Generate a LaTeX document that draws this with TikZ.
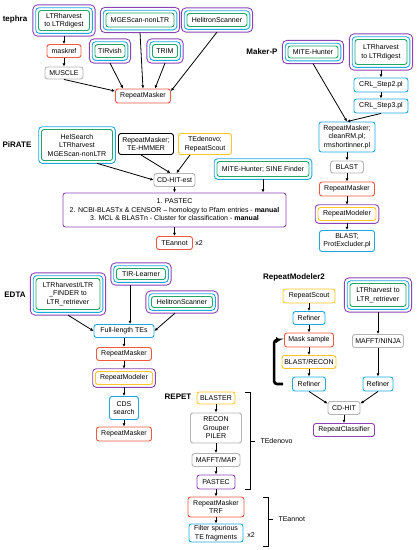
\documentclass[tikz,border=0pt]{standalone}
\usepackage{fontspec}
\setmainfont{Liberation Sans}
\usetikzlibrary{positioning}
\usetikzlibrary{arrows.meta}
\definecolor{tred}{HTML}{F05A3C}
\definecolor{tcyan}{HTML}{1EA8E0}
\definecolor{tgreen}{HTML}{1FA865}
\definecolor{tpurple}{HTML}{8C44B4}
\definecolor{tyellow}{HTML}{FFC425}
\definecolor{tgray}{HTML}{B4B4B4}
\tikzset{
    wh/.style 2 args = {minimum width=#1pt, minimum height=#2pt},
    mybox/.style = {draw, rounded corners=2.5pt, line width=0.9pt, align=center, fill=white, inner sep=1pt, text=black},
    myboxr/.style = {mybox, draw=tred},
    myboxc/.style = {mybox, draw=tcyan},
    myboxk/.style = {mybox, draw=black},
    myboxgr/.style = {mybox, draw=tgray},
    myboxy/.style = {mybox, draw=tyellow},
    myboxp/.style = {mybox, draw=tpurple},
    myboxgc/.style = {mybox, draw=tgreen, outer sep=2.8pt, append after command={\pgfextra{\let\LN\tikzlastnode
        \draw[tcyan, line width=0.9pt, rounded corners=3.5pt] (\LN.south west) rectangle (\LN.north east);}}},
    myboxyp/.style = {mybox, draw=tyellow, outer sep=2.8pt, append after command={\pgfextra{\let\LN\tikzlastnode
        \draw[tpurple, line width=0.9pt, rounded corners=3.5pt] (\LN.south west) rectangle (\LN.north east);}}},
    myboxgcp/.style = {mybox, draw=tgreen, outer sep=5.6pt, append after command={\pgfextra{\let\LN\tikzlastnode
        \draw[tcyan, line width=0.9pt, rounded corners=3.5pt] ([shift={(2.8pt,2.8pt)}]\LN.south west) rectangle ([shift={(-2.8pt,-2.8pt)}]\LN.north east);
        \draw[tpurple, line width=0.9pt, rounded corners=4.5pt] (\LN.south west) rectangle (\LN.north east);}}},
    mylabel/.style = {font=\fontsize{8}{9}\selectfont\bfseries},
    edgen/.style = {-{Latex[length=3.2pt,width=3pt]}, line width=0.8pt, black},
    edgel/.style = {-{Triangle[length=4pt,width=6pt]}, line width=2.6pt, black, rounded corners=3pt}, % loop
    bracket/.style = {line width=0.7pt, black}
}

\begin{document}
\begin{tikzpicture}[
	x=1pt, y=-1pt,
	font=\fontsize{7}{8.5}\selectfont]
  \useasboundingbox (0,0) rectangle (417,550);
  % tephra
  \node (ltephra) at (15,19) [mylabel] {tephra};
  \node (tltr) at (64,20.5) [myboxgcp, wh={51}{20}] {LTRharvest\\to LTRdigest};
  \node (tmge) at (140,20) [myboxgcp, wh={68}{14}] {MGEScan-nonLTR};
  \node (theli) at (217,20) [myboxgcp, wh={60}{13}] {HelitronScanner};
  \node (tmask) at (64,51) [myboxr, wh={34}{13}] {maskref};
  \node (ttir) at (110,51) [myboxgcp, wh={30}{13}] {TIRvish};
  \node (ttrim) at (165,51) [myboxgcp, wh={25}{13}] {TRIM};
  \node (tmuscle) at (64,73) [myboxgr, wh={38}{12}] {MUSCLE};
  \node (trm) at (143,96) [myboxr, wh={55}{14}] {RepeatMasker};
  \draw[edgen] (tltr) -- (tmask);
  \draw[edgen] (tmask) -- (tmuscle);
  \draw[edgen] (tmuscle.south) -- (trm.170);
  \draw[edgen] (ttir.south) -- ([xshift=-20pt]trm.north);
  \draw[edgen] (tmge.south) -- (trm.north);
  \draw[edgen] (ttrim.south) -- ([xshift=12pt]trm.north);
  \draw[edgen] (theli.south) -- (trm.10);
  % Maker-P
  \node (lmakerp) at (262,52) [mylabel] {Maker-P};
  \node (mmite) at (313,52) [myboxgcp, wh={50}{12}] {MITE-Hunter};
  \node (mltr) at (381,52) [myboxgcp, wh={52}{25}] {LTRharvest\\to LTRdigest};
  \node (mcrl2) at (381,85) [myboxc, wh={54}{14}] {CRL\_Step2.pl};
  \node (mcrl3) at (381,106) [myboxc, wh={54}{14}] {CRL\_Step3.pl};
  \node (mrm) at (347,137) [myboxc, wh={56}{30}] {RepeatMasker;\\cleanRM.pl;\\rmshortinner.pl};
  \node (mblast) at (347,167) [myboxgr, wh={33}{12}] {BLAST};
  \node (mrm2) at (347,189) [myboxr, wh={55}{14}] {RepeatMasker};
  \node (mrmod) at (347,214) [myboxyp, wh={58}{13}] {RepeatModeler};
  \node (mprot) at (347,241) [myboxc, wh={55}{21}] {BLAST;\\ProtExcluder.pl};
  \draw[edgen] (mltr) -- (mcrl2);
  \draw[edgen] (mcrl2) -- (mcrl3);
  \draw[edgen] (mmite.south) -- (mrm.north);
  \draw[edgen] (mcrl3.south) -- (mrm.north);
  \draw[edgen] (mrm) -- (mblast);
  \draw[edgen] (mblast) -- (mrm2);
  \draw[edgen] (mrm2) -- (mrmod);
  \draw[edgen] (mrmod) -- (mprot);
  % PiRATE
  \node (lpirate) at (17,145) [mylabel] {PiRATE};
  \node (phel) at (77,145) [myboxgc, wh={71}{31}] {HelSearch\\LTRharvest\\MGEScan-nonLTR};
  \node (phmm) at (146,144) [myboxk, wh={55}{21}] {RepeatMasker;\\TE-HMMER};
  \node (pted) at (205,144) [myboxy, wh={53}{21}] {TEdenovo;\\RepeatScout};
  \node (pcdhit) at (174.5,180) [myboxgr, wh={41}{13}] {CD-HIT-est};
  \node (pmite) at (263,169) [myboxgc, wh={92}{15}] {MITE-Hunter; SINE Finder};
  \node (ppastec) at (174.5,210) [myboxp, wh={223}{34}] {1. PASTEC\\2. NCBI-BLASTx \& CENSOR -- homology to Pfam entries - \textbf{manual}\\3. MCL \& BLASTn - Cluster for classification - \textbf{manual}};
  \node (pteannot) at (174.5,243) [myboxr, wh={36}{13}] {TEannot};
  \node (px2) at (199,243) {x2};
  \draw[edgen] ([xshift=20pt]phel.south) -- (pcdhit.west);
  \draw[edgen] ([xshift=-5pt]phmm.south) -- ([xshift=-4pt]pcdhit.north);
  \draw[edgen] ([xshift=-15pt]pted.south) -- ([xshift=2pt]pcdhit.north);
  \draw[edgen] (pcdhit) -- (ppastec);
  \draw[edgen] (pmite.south) -- (pmite.south |- ppastec.north);
  \draw[edgen] (ppastec) -- (pteannot);
  % EDTA
  \node (ledta) at (15,295) [mylabel] {EDTA};
  \node (eltr) at (68,294) [myboxgcp, wh={64}{31}] {LTRharvest/LTR\\\_FINDER to\\LTR\_retriever};
  \node (etir) at (141,274) [myboxgcp, wh={49}{11}] {TIR-Learner};
  \node (eheli) at (182,302) [myboxgcp, wh={61}{11}] {HelitronScanner};
  \node (efull) at (124,331) [myboxc, wh={60}{13}] {Full-length TEs};
  \node (erm) at (124,354) [myboxr, wh={55}{13}] {RepeatMasker};
  \node (ermod) at (124,378) [myboxyp, wh={57}{13}] {RepeatModeler};
  \node (ecds) at (124,408) [myboxc, wh={29}{23}] {CDS\\search};
  \node (erm2) at (124,434) [myboxr, wh={55}{14}] {RepeatMasker};
  \draw[edgen] (eltr.south) -- (efull.west);
  \draw[edgen] ([xshift=-11pt]etir.south) -- ([xshift=6pt]efull.north);
  \draw[edgen] ([xshift=-7pt]eheli.south) -- (efull.east);
  \draw[edgen] (efull) -- (erm);
  \draw[edgen] (erm) -- (ermod);
  \draw[edgen] (ermod) -- (ecds);
  \draw[edgen] (ecds) -- (erm2);
  % REPET
  \node (lrepet) at (178,397) [mylabel] {REPET};
  \node (rblaster) at (216,398) [myboxy, wh={38}{12}] {BLASTER};
  \node (rrecon) at (216,428) [myboxgr, wh={51}{30}] {RECON\\Grouper\\PILER};
  \node (rmafft) at (216,460) [myboxgr, wh={48}{13}] {MAFFT/MAP};
  \node (rpastec) at (216,482) [myboxp, wh={38}{14}] {PASTEC};
  \node (rrmtrf) at (216,507) [myboxr, wh={56}{20}] {RepeatMasker\\TRF};
  \node (rfilter) at (216,533) [myboxc, wh={54}{18}] {Filter spurious\\TE fragments};
  \node (rx2) at (251,535) {x2};
  \node (rtedenovo) at (257,441) [anchor=west] {TEdenovo};
  \node (rteannot) at (275,519) [anchor=west] {TEannot};
  \draw[edgen] (rblaster) -- (rrecon);
  \draw[edgen] (rrecon) -- (rmafft);
  \draw[edgen] (rmafft) -- (rpastec);
  \draw[edgen] (rpastec) -- (rrmtrf);
  \draw[edgen] (rrmtrf) -- (rfilter);
  \draw[bracket] (245,392) -- (250,392) -- (250,489) -- (245,489) (250,441) -- (255,441);
  \draw[bracket] (263,497) -- (268,497) -- (268,546) -- (263,546) (268,519) -- (273,519);
  % RepeatModeler2
  \node (lrm2) at (294,277) [mylabel] {RepeatModeler2};
  \node (qscout) at (309,296) [myboxy, wh={52}{14}] {RepeatScout};
  \node (qref1) at (309,318) [myboxc, wh={32}{13}] {Refiner};
  \node (qmask) at (309,340) [myboxr, wh={49}{14}] {Mask sample};
  \node (qblast) at (309,362) [myboxy, wh={54}{13}] {BLAST/RECON};
  \node (qref2) at (309,384) [myboxc, wh={33}{14}] {Refiner};
  \node (qltr) at (378,295) [myboxgcp, wh={56}{23}] {LTRharvest to\\LTR\_retriever};
  \node (qmafft) at (378,341) [myboxgr, wh={51}{13}] {MAFFT/NINJA};
  \node (qref3) at (378,384) [myboxc, wh={30}{14}] {Refiner};
  \node (qcdhit) at (344,408) [myboxgr, wh={32}{13}] {CD-HIT};
  \node (qclass) at (344,430) [myboxp, wh={61}{13}] {RepeatClassifier};
  \draw[edgen] (qscout) -- (qref1);
  \draw[edgen] (qref1) -- (qmask);
  \draw[edgen] (qmask) -- (qblast);
  \draw[edgen] (qblast) -- (qref2);
  \draw[edgen] (qltr) -- (qmafft);
  \draw[edgen] (qmafft) -- (qref3);
  \draw[edgen] (qref2.south) -- (qcdhit.165);
  \draw[edgen] (qref3.south) -- (qcdhit.15);
  \draw[edgen] (qcdhit) -- (qclass);
  \draw[edgel] ([xshift=-9pt]qref2.west) -- ++(-9,0) |- ([xshift=-4pt]qmask.west);
\end{tikzpicture}
\end{document}
